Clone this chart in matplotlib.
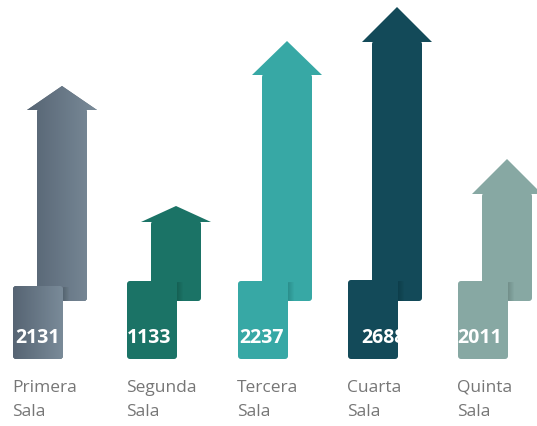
import numpy as np
import matplotlib
matplotlib.use("Agg")
import matplotlib.pyplot as plt
from matplotlib.patches import Polygon, FancyBboxPatch

# ---- data ----
categories = ["Primera\nSala", "Segunda\nSala", "Tercera\nSala", "Cuarta\nSala", "Quinta\nSala"]
values = [2131, 1133, 2237, 2688, 2011]
arrow_heights = [215, 95, 260, 294, 142]   # visual arrow height
colors = ["#65737f", "#1b7366", "#37a8a5", "#134a59", "#87a8a3"]

# ---- layout (pixel-like units) ----
W, H = 537, 427
fig = plt.figure(figsize=(W / 100, H / 100), dpi=100)
ax = fig.add_axes([0, 0, 1, 1])
ax.set_xlim(0, W)
ax.set_ylim(H, 0)
ax.axis("off")

lefts = [13, 127, 238, 348, 458]
sq_w = 50
shaft_off, shaft_w = 24, 50
head_extra = 10
head_len = [24, 16, 34, 35, 35]
base_y = 302
sq_top = [287, 282, 282, 281, 282]
sq_bot = 360
txt_off = [2, 0, 1, 13, -1]

for i, (cat, val, h, col) in enumerate(zip(categories, values, arrow_heights, colors)):
    left = lefts[i]
    sx = left + shaft_off
    top = base_y - h
    hl = head_len[i]
    shaft = FancyBboxPatch((sx, top + hl - 1), shaft_w, base_y - (top + hl - 1),
                           boxstyle="round,pad=0,rounding_size=3",
                           fc=col, ec="none", zorder=2)
    ax.add_patch(shaft)
    head = Polygon([(sx - head_extra, top + hl), (sx + shaft_w / 2, top),
                    (sx + shaft_w + head_extra, top + hl)],
                   closed=True, fc=col, ec="none", zorder=2)
    ax.add_patch(head)
    # soft shadow of square on shaft
    for k in range(6):
        ax.add_patch(FancyBboxPatch((left + sq_w, sq_top[i] + 1), 6 - k, base_y - sq_top[i] - 1,
                                    boxstyle="round,pad=0,rounding_size=1",
                                    fc="black", alpha=0.025, ec="none", zorder=2.5))
    sq = FancyBboxPatch((left, sq_top[i]), sq_w, sq_bot - sq_top[i],
                        boxstyle="round,pad=0,rounding_size=3",
                        fc=col, ec="none", zorder=3)
    ax.add_patch(sq)
    if i == 0:
        grad = np.linspace(0, 1, 256).reshape(1, -1)
        cmap = matplotlib.colors.LinearSegmentedColormap.from_list("g", ["#566473", "#7a8b99"])
        for patch in (shaft, head):
            im = ax.imshow(grad, cmap=cmap,
                           extent=(sx - head_extra, sx + shaft_w + head_extra, base_y, top),
                           aspect="auto", zorder=2.2, interpolation="bilinear")
            im.set_clip_path(patch)
        im = ax.imshow(grad, cmap=cmap, extent=(left, left + sq_w, sq_bot, sq_top[i]),
                       aspect="auto", zorder=3.2, interpolation="bilinear")
        im.set_clip_path(sq)
        ax.set_xlim(0, W)
        ax.set_ylim(H, 0)
    ax.text(left + txt_off[i], 338, f"{val}", color="white", fontsize=14,
            fontweight="bold", family="Open Sans", ha="left", va="center", zorder=5)
    l1, l2 = cat.split("\n")
    ax.text(left - 1, 388, l1, color="#767676", fontsize=12.5, family="Open Sans",
            ha="left", va="center")
    ax.text(left - 1, 412, l2, color="#767676", fontsize=12.5, family="Open Sans",
            ha="left", va="center")

fig.savefig("out.png", dpi=100)
